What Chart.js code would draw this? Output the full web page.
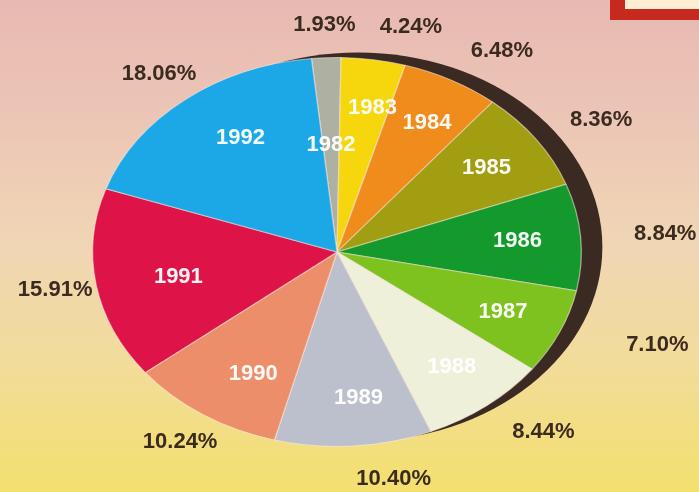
<!DOCTYPE html>
<html>
<head>
<meta charset="utf-8">
<script src="https://cdn.jsdelivr.net/npm/chart.js@4"></script>
<style>
  html, body { margin: 0; padding: 0; }
  body {
    width: 699px; height: 492px; overflow: hidden; position: relative;
    background: linear-gradient(180deg, #e8b9b2 0%, #ecc6b6 25%, #f0d6b4 50%, #f2dc98 75%, #f3e06e 100%);
  }
  #tag {
    position: absolute; left: 610px; top: -10px; width: 80px; height: 10px;
    border: 9px solid #c62a1e; border-left-width: 15px; border-bottom-width: 11px;
    background: #fbeed2;
  }
  #wrap { position: absolute; left: 0; top: 0; width: 699px; height: 492px; }
</style>
</head>
<body>
<div id="tag"></div>
<div id="wrap"><canvas id="pieChart" width="699" height="492"></canvas></div>
<script>
// Share by year (%)
const years = ['1982', '1983', '1984', '1985', '1986', '1987', '1988', '1989', '1990', '1991', '1992'];
const shares = [1.93, 4.24, 6.48, 8.36, 8.84, 7.10, 8.44, 10.40, 10.24, 15.91, 18.06];
const shareLabels = ['1.93%', '4.24%', '6.48%', '8.36%', '8.84%', '7.10%', '8.44%', '10.40%', '10.24%', '15.91%', '18.06%'];
const sliceColors = ['#aeb0a2', '#f6d60c', '#f08c1c', '#a29e12', '#149a2c', '#7ec220', '#eef0da', '#bcc0cc', '#ec8e6a', '#de1448', '#1ca8e6'];

const stretchX = 245 / 195; // pie is drawn as an ellipse

// squash the circle into an ellipse, with a dark rim behind it
const ellipsePlugin = {
    id: 'ellipse',
    beforeDatasetsDraw(chart) {
        const arc = chart.getDatasetMeta(0).data[0];
        const ctx = chart.ctx;
        const r = arc.outerRadius;
        ctx.save();
        ctx.fillStyle = '#3a2a22';
        ctx.beginPath();
        ctx.ellipse(arc.x + 21, arc.y - 5, r * stretchX, r, 0, 0, Math.PI * 2);
        ctx.fill();
        ctx.translate(arc.x, arc.y);
        ctx.scale(stretchX, 1);
        ctx.translate(-arc.x, -arc.y);
    },
    afterDatasetsDraw(chart) {
        chart.ctx.restore();
    }
};

// year names inside, percentages outside
const labelPlugin = {
    id: 'sliceLabels',
    afterDraw(chart) {
        const ctx = chart.ctx;
        const meta = chart.getDatasetMeta(0);
        ctx.save();
        ctx.textBaseline = 'middle';
        meta.data.forEach(function(arc, i) {
            const mid = (arc.startAngle + arc.endAngle) / 2;
            const r = arc.outerRadius;
            const c = Math.cos(mid), s = Math.sin(mid);

            // thin slices get their year closer to the centre
            const thin = shares[i] < 3;
            const kx = thin ? 0.55 : 0.7, ky = thin ? 0.55 : 0.75;
            ctx.font = 'bold 22px "Liberation Sans", Arial, sans-serif';
            ctx.fillStyle = 'rgba(255, 255, 255, 0.95)';
            ctx.textAlign = 'center';
            ctx.fillText(years[i], arc.x + (thin ? 0 : 10) + c * r * kx * stretchX, arc.y + s * r * ky);

            // labels beside the dark rim sit a little further out
            const rim = c > 0.85 ? 12 + 40 * Math.max(0, s) : 0;
            ctx.font = 'bold 22px "Liberation Sans", Arial, sans-serif';
            ctx.fillStyle = '#3b2b1f';
            ctx.textAlign = c > 0.05 ? 'left' : 'center';
            ctx.fillText(shareLabels[i], arc.x + c * r * 1.17 * stretchX + rim, arc.y + s * r * 1.17);
        });
        ctx.restore();
    }
};

document.addEventListener('DOMContentLoaded', function() {
    const pieCtx = document.getElementById('pieChart');
    new Chart(pieCtx, {
        type: 'pie',
        data: {
            labels: years,
            datasets: [{
                data: shares,
                backgroundColor: sliceColors,
                borderColor: 'rgba(255, 236, 226, 0.55)',
                borderWidth: 1
            }]
        },
        options: {
            responsive: false,
            animation: false,
            events: [],
            rotation: -6,
            layout: {
                padding: { top: 57, bottom: 45, left: 142, right: 167 }
            },
            plugins: {
                legend: { display: false },
                tooltip: { enabled: false }
            }
        },
        plugins: [ellipsePlugin, labelPlugin]
    });
});
</script>
</body>
</html>
